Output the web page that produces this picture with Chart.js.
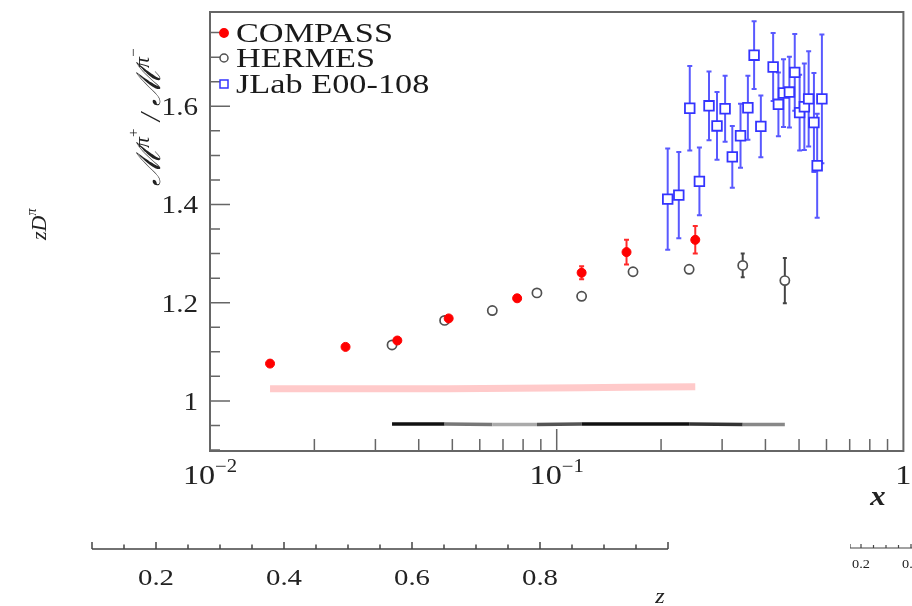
<!DOCTYPE html>
<html>
<head>
<meta charset="utf-8">
<script src="https://cdn.jsdelivr.net/npm/chart.js@4.4.0/dist/chart.umd.min.js"></script>
<style>
  html, body { margin: 0; padding: 0; background: #fff; overflow: hidden; }
  #wrap { position: relative; width: 912px; height: 606px; overflow: hidden; }
  canvas { position: absolute; }
</style>
</head>
<body>
<div id="wrap">
  <canvas id="main" width="912" height="606" style="left:0;top:0"></canvas>
  <canvas id="zaxis" width="912" height="106" style="left:0;top:500px"></canvas>
  <canvas id="zsmall" width="200" height="60" style="left:850px;top:520px"></canvas>
</div>
<script>
// data
var compassX = [0.0149, 0.0246, 0.0347, 0.0488, 0.0769, 0.118, 0.159, 0.251];
var compassY = [1.076, 1.110, 1.123, 1.168, 1.209, 1.261, 1.303, 1.328];
var compassErr = [0.003, 0.003, 0.003, 0.004, 0.005, 0.013, 0.025, 0.028];
var compassSys = [1.025, 1.025, 1.025, 1.025, 1.026, 1.027, 1.028, 1.029];

var hermesX = [0.0335, 0.0475, 0.0652, 0.0877, 0.118, 0.166, 0.241, 0.344, 0.455];
var hermesY = [1.114, 1.164, 1.184, 1.220, 1.213, 1.263, 1.268, 1.276, 1.245];
var hermesErr = [0.002, 0.002, 0.002, 0.003, 0.003, 0.004, 0.005, 0.024, 0.046];
var hermesSys = [0.953, 0.953, 0.952, 0.952, 0.953, 0.953, 0.953, 0.952, 0.952];

var jlabX = [0.209, 0.225, 0.242, 0.258, 0.275, 0.290, 0.306, 0.321, 0.339, 0.356, 0.371, 0.388,
             0.421, 0.436, 0.451, 0.469, 0.486, 0.502, 0.518, 0.533, 0.552, 0.564, 0.582];
var jlabY = [1.411, 1.419, 1.596, 1.447, 1.601, 1.560, 1.595, 1.497, 1.540, 1.597, 1.704, 1.559,
             1.680, 1.604, 1.627, 1.629, 1.669, 1.587, 1.599, 1.615, 1.567, 1.479, 1.615];
var jlabErr = [0.103, 0.088, 0.086, 0.069, 0.070, 0.069, 0.067, 0.063, 0.065, 0.065, 0.069, 0.063,
               0.069, 0.065, 0.069, 0.072, 0.078, 0.077, 0.088, 0.097, 0.101, 0.106, 0.131];

var yTickValues = [1, 1.2, 1.4, 1.6];
var yTickLabels = ['1', '1.2', '1.4', '1.6'];
var xTickValues = [0.01, 0.1, 1];
var xTickExp = ['\u22122', '\u22121', ''];
var zTickValues = [0.2, 0.4, 0.6, 0.8];
var zTickLabels = ['0.2', '0.4', '0.6', '0.8'];
var smallTickValues = [0.2, 0.4];
var smallTickLabels = ['0.2', '0.4'];

var blackBandShade = ['#111', '#777', '#aaa', '#555', '#111', '#111', '#333', '#888'];
var serif = '"Liberation Serif", "DejaVu Serif", serif';

function pts(xs, ys) {
  return xs.map(function (x, i) { return { x: x, y: ys[i] }; });
}

// text stretched horizontally like the original figure
function stext(ctx, s, x, y, sx, align) {
  ctx.save();
  ctx.translate(x, y);
  ctx.scale(sx, 1);
  ctx.textAlign = align || 'left';
  ctx.fillText(s, 0, 0);
  ctx.restore();
}

var errorBars = {
  id: 'errorBars',
  beforeDatasetsDraw: function (chart) {
    var ctx = chart.ctx, xs = chart.scales.x, ys = chart.scales.y;
    ctx.save();
    ctx.beginPath();
    ctx.rect(chart.chartArea.left, chart.chartArea.top, chart.chartArea.width, chart.chartArea.height);
    ctx.clip();
    chart.data.datasets.forEach(function (ds) {
      if (!ds.errors) return;
      ctx.strokeStyle = ds.errColor;
      ctx.lineWidth = ds.errWidth;
      ds.data.forEach(function (p, i) {
        var px = xs.getPixelForValue(p.x);
        var y1 = ys.getPixelForValue(p.y - ds.errors[i]);
        var y2 = ys.getPixelForValue(p.y + ds.errors[i]);
        ctx.beginPath();
        ctx.moveTo(px, y1); ctx.lineTo(px, y2);
        ctx.moveTo(px - ds.cap, y1); ctx.lineTo(px + ds.cap, y1);
        ctx.moveTo(px - ds.cap, y2); ctx.lineTo(px + ds.cap, y2);
        ctx.stroke();
      });
    });
    ctx.restore();
  }
};

var decor = {
  id: 'decor',
  afterDraw: function (chart) {
    var ctx = chart.ctx, a = chart.chartArea, xs = chart.scales.x, ys = chart.scales.y;
    ctx.save();
    // inward ticks
    ctx.strokeStyle = '#666';
    ctx.lineWidth = 1.5;
    ctx.beginPath();
    for (var k = 18; k <= 35; k++) {
      var py = ys.getPixelForValue(k * 0.05);
      var len = (k % 4 === 0) ? 20 : 10;
      ctx.moveTo(a.left, py); ctx.lineTo(a.left + len, py);
    }
    for (var d = -2; d < 0; d++) {
      for (var m = 1; m <= 9; m++) {
        var px = xs.getPixelForValue(m * Math.pow(10, d));
        var l = (m === 1) ? 22 : 12;
        ctx.moveTo(px, a.bottom); ctx.lineTo(px, a.bottom - l);
      }
    }
    ctx.stroke();
    ctx.lineWidth = 2;
    ctx.strokeRect(a.left, a.top, a.right - a.left, a.bottom - a.top);

    // tick labels
    ctx.fillStyle = '#222';
    ctx.font = '26px ' + serif;
    yTickValues.forEach(function (v, i) {
      stext(ctx, yTickLabels[i], 198, ys.getPixelForValue(v) + 9, 1.12, 'right');
    });
    xTickValues.forEach(function (v, i) {
      var px = xs.getPixelForValue(v);
      var base = (v === 1) ? '1' : '10';
      ctx.font = '28px ' + serif;
      var wb = ctx.measureText(base).width * 1.15;
      ctx.font = '18px ' + serif;
      var we = ctx.measureText(xTickExp[i]).width * 1.15;
      var x0 = px - (wb + we) / 2;
      ctx.font = '28px ' + serif;
      stext(ctx, base, x0, 484, 1.15);
      ctx.font = '18px ' + serif;
      stext(ctx, xTickExp[i], x0 + wb, 472, 1.15);
    });

    // axis titles
    ctx.font = 'italic bold 28px ' + serif;
    stext(ctx, 'x', 878, 505, 1.1, 'center');

    ctx.save();
    ctx.translate(160, 186);
    ctx.rotate(-Math.PI / 2);
    var parts = [
      { t: '\u2133', f: 'italic 33px "DejaVu Serif", serif', r: 0 },
      { t: '\u03c0', f: 'italic 22px ' + serif, r: 11 },
      { t: '+', f: '15px ' + serif, r: 22 },
      { t: ' / ', f: 'italic 29px ' + serif, r: 0 },
      { t: '\u2133', f: 'italic 33px "DejaVu Serif", serif', r: 0 },
      { t: '\u03c0', f: 'italic 22px ' + serif, r: 11 },
      { t: '\u2212', f: '15px ' + serif, r: 22 }
    ];
    var cx = 0;
    parts.forEach(function (p) {
      ctx.font = p.f;
      ctx.fillText(p.t, cx, -p.r);
      cx += ctx.measureText(p.t).width;
    });
    ctx.restore();

    ctx.save();
    ctx.translate(46, 240);
    ctx.rotate(-Math.PI / 2);
    ctx.font = 'italic 22px ' + serif;
    ctx.fillText('z', 0, 0);
    var wz = ctx.measureText('z').width;
    ctx.fillText('D', wz, 0);
    var wd = ctx.measureText('D').width;
    ctx.font = 'italic 14px ' + serif;
    ctx.fillText('\u03c0', wz + wd, -10);
    ctx.restore();

    // legend inside the frame
    var rows = [33, 58, 84];
    chart.data.datasets.slice(0, 3).forEach(function (ds, i) {
      var y = rows[i], x = 224;
      ctx.lineWidth = 1.5;
      ctx.strokeStyle = ds.borderColor;
      ctx.fillStyle = ds.backgroundColor;
      ctx.beginPath();
      if (ds.pointStyle === 'rect') {
        ctx.rect(x - 4, y - 4, 8, 8);
      } else {
        ctx.arc(x, y, i === 0 ? 4.2 : 4, 0, Math.PI * 2);
      }
      ctx.fill();
      ctx.stroke();
      ctx.fillStyle = '#1a1a1a';
      ctx.font = '27px ' + serif;
      stext(ctx, ds.label, 236, y + 9, 1.27);
    });
    ctx.restore();
  }
};

var mainChart = new Chart(document.getElementById('main').getContext('2d'), {
  type: 'scatter',
  data: {
    datasets: [
      {
        label: 'COMPASS',
        data: pts(compassX, compassY),
        pointStyle: 'circle',
        pointRadius: 4.5,
        backgroundColor: '#ff0000',
        borderColor: '#ff0000',
        borderWidth: 1,
        errors: compassErr, errColor: '#ff2a2a', errWidth: 2, cap: 2.5
      },
      {
        label: 'HERMES',
        data: pts(hermesX, hermesY),
        pointStyle: 'circle',
        pointRadius: 4.6,
        backgroundColor: '#ffffff',
        borderColor: '#505050',
        borderWidth: 1.7,
        errors: hermesErr, errColor: '#444444', errWidth: 2, cap: 2
      },
      {
        label: 'JLab E00-108',
        data: pts(jlabX, jlabY),
        pointStyle: 'rect',
        pointRadius: 6.8,
        backgroundColor: '#ffffff',
        borderColor: '#3434ff',
        borderWidth: 1.8,
        errors: jlabErr, errColor: 'rgba(60,60,255,0.85)', errWidth: 2, cap: 2.5
      },
      {
        label: 'COMPASS sys',
        data: pts(compassX, compassSys),
        showLine: true,
        borderColor: '#ffcaca',
        borderWidth: 7,
        pointRadius: 0
      },
      {
        label: 'HERMES sys',
        data: pts(hermesX, hermesSys),
        showLine: true,
        borderColor: '#111',
        borderWidth: 3.5,
        pointRadius: 0,
        segment: { borderColor: function (c) { return blackBandShade[c.p0DataIndex]; } }
      }
    ]
  },
  options: {
    responsive: false,
    animation: false,
    layout: { padding: { left: 210, right: 2, top: 12, bottom: 155 } },
    plugins: { legend: { display: false }, tooltip: { enabled: false } },
    scales: {
      x: { type: 'logarithmic', min: 0.01, max: 1, display: false },
      y: { type: 'linear', min: 0.898, max: 1.792, display: false }
    }
  },
  plugins: [errorBars, decor]
});

// the stray axes that sit under the plot in the original figure
var strayAxis = {
  id: 'strayAxis',
  afterDraw: function (chart, args, o) {
    var ctx = chart.ctx, a = chart.chartArea, xs = chart.scales.x;
    ctx.save();
    ctx.strokeStyle = '#444';
    ctx.lineWidth = o.lw;
    ctx.beginPath();
    ctx.moveTo(a.left, a.bottom); ctx.lineTo(a.right, a.bottom);
    ctx.moveTo(a.left, a.bottom); ctx.lineTo(a.left, a.bottom - o.maj);
    ctx.moveTo(a.right, a.bottom); ctx.lineTo(a.right, a.bottom - o.maj);
    for (var k = Math.ceil(xs.min / 0.05 - 1e-6); k * 0.05 < xs.max - 1e-6; k++) {
      var px = xs.getPixelForValue(k * 0.05);
      var l = (k % 4 === 0) ? o.maj : o.min;
      ctx.moveTo(px, a.bottom); ctx.lineTo(px, a.bottom - l);
    }
    ctx.stroke();
    ctx.fillStyle = '#222';
    ctx.font = o.size + 'px ' + serif;
    o.values.forEach(function (v, i) {
      stext(ctx, o.labels[i], xs.getPixelForValue(v), a.bottom + o.dy, o.sx, 'center');
    });
    if (o.title) {
      ctx.font = 'italic 22px ' + serif;
      stext(ctx, o.title, 660, 103, 1.1, 'center');
    }
    ctx.restore();
  }
};

new Chart(document.getElementById('zaxis').getContext('2d'), {
  type: 'scatter',
  data: { datasets: [{ data: [] }] },
  options: {
    responsive: false,
    animation: false,
    layout: { padding: { left: 92, right: 244, top: 0, bottom: 57 } },
    plugins: {
      legend: { display: false }, tooltip: { enabled: false },
      strayAxis: { values: zTickValues, labels: zTickLabels, maj: 7, min: 4.5, lw: 1.5, size: 24, sx: 1.2, dy: 36, title: 'z' }
    },
    scales: {
      x: { type: 'linear', min: 0.1, max: 1.0, display: false },
      y: { display: false }
    }
  },
  plugins: [strayAxis]
});

new Chart(document.getElementById('zsmall').getContext('2d'), {
  type: 'scatter',
  data: { datasets: [{ data: [] }] },
  options: {
    responsive: false,
    animation: false,
    layout: { padding: { left: 0, right: 0, top: 0, bottom: 32 } },
    plugins: {
      legend: { display: false }, tooltip: { enabled: false },
      strayAxis: { values: smallTickValues, labels: smallTickLabels, maj: 4, min: 3, lw: 1.2, size: 13, sx: 1.1, dy: 20 }
    },
    scales: {
      x: { type: 'linear', min: 0.156, max: 0.956, display: false },
      y: { display: false }
    }
  },
  plugins: [strayAxis]
});
</script>
</body>
</html>
